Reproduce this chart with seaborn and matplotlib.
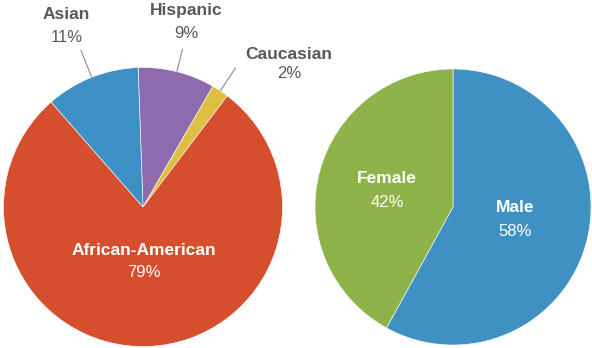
import numpy as np
import matplotlib
matplotlib.use("Agg")
import matplotlib.pyplot as plt
import seaborn as sns

sns.set_theme(style="white")
plt.rcParams["font.family"] = ["Liberation Sans", "DejaVu Sans"]

# Race breakdown (clockwise from the top)
race_labels = ["Hispanic", "Caucasian", "African-American", "Asian"]
race_values = [9, 2, 79, 11]
race_colors = ["#8E6BAE", "#DEBF42", "#D54E2D", "#3E90C4"]

# Gender breakdown (clockwise from the top)
gender_labels = ["Male", "Female"]
gender_values = [58, 42]
gender_colors = ["#3F91C4", "#8FB34B"]

W, H = 592, 348
fig = plt.figure(figsize=(W / 100, H / 100), dpi=100)
fig.patch.set_facecolor("white")


def pie_axes(cx, cy, r):
    return fig.add_axes([(cx - r) / W, (H - cy - r) / H, 2 * r / W, 2 * r / H])


def finish(ax):
    ax.set_xlim(-1, 1)
    ax.set_ylim(-1, 1)
    ax.set_aspect("equal")
    ax.axis("off")


ax1 = pie_axes(143, 207, 139.5)
wedges1, _ = ax1.pie(race_values, colors=race_colors, startangle=92,
                     counterclock=False, radius=1,
                     wedgeprops=dict(edgecolor="white", linewidth=0.4))
finish(ax1)

ax2 = pie_axes(453, 207, 138)
wedges2, _ = ax2.pie(gender_values, colors=gender_colors, startangle=90,
                     counterclock=False, radius=1,
                     wedgeprops=dict(edgecolor="white", linewidth=0.4))
finish(ax2)

# Leader lines for the small outer-labelled slices
for w, r_out in zip(wedges1, [1.17, 1.2, None, 1.21]):
    if r_out is None:
        continue
    mid = np.deg2rad((w.theta1 + w.theta2) / 2)
    ax1.plot([np.cos(mid), r_out * np.cos(mid)],
             [np.sin(mid), r_out * np.sin(mid)],
             color="#8A8A8A", lw=0.8, clip_on=False, solid_capstyle="butt")

GRAY = "#595959"


def label(px, py_name, py_pct, name, pct, color):
    fig.text(px / W, 1 - py_name / H, name, ha="center", va="baseline",
             fontsize=12.5, fontweight="bold", color=color)
    fig.text(px / W, 1 - py_pct / H, f"{pct}%", ha="center", va="baseline",
             fontsize=12, color=color)


pos = {
    "Hispanic": (186, 15, 38, GRAY),
    "Caucasian": (289, 59, 78, GRAY),
    "African-American": (144, 255, 277, "white"),
    "Asian": (66.5, 19, 42, GRAY),
    "Male": (515.5, 212.5, 236.5, "white"),
    "Female": (387, 183, 207, "white"),
}

for name, val in zip(race_labels + gender_labels, race_values + gender_values):
    px, yn, yp, c = pos[name]
    label(px, yn, yp, name, val, c)

fig.savefig("out.png", dpi=100)
